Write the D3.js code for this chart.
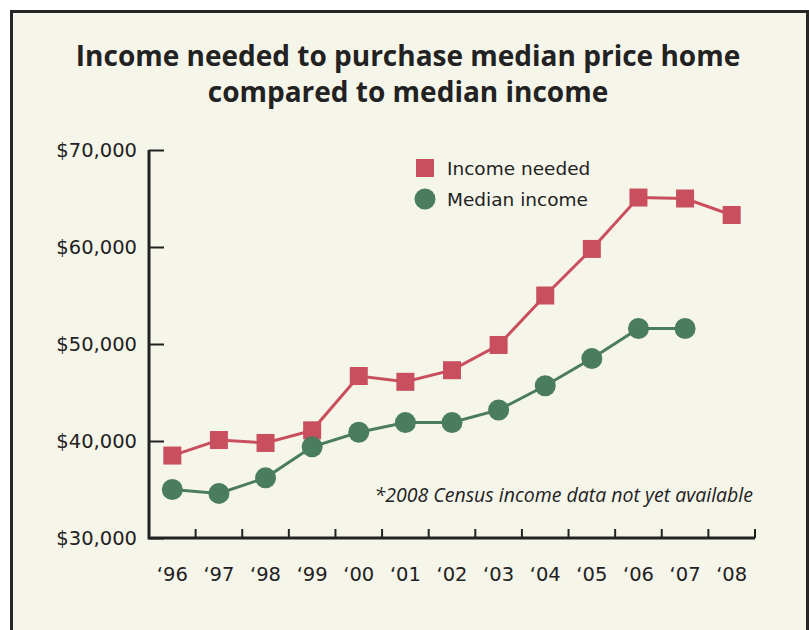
<!DOCTYPE html>
<html lang="en">
<head>
<meta charset="UTF-8">
<title>Income needed vs median income</title>
<script src="https://d3js.org/d3.v7.min.js"></script>
<style>
    body { margin: 0; background: #fff; }
    svg { display: block; }
    text { fill: #222; }
</style>
</head>
<body>
<svg width="809" height="630"></svg>
<script>
// chart data
const years = ["'96", "'97", "'98", "'99", "'00", "'01", "'02", "'03", "'04", "'05", "'06", "'07", "'08"];
const incomeNeeded = [38500, 40100, 39800, 41100, 46700, 46100, 47300, 49900, 55000, 59800, 65100, 65000, 63300];
const medianIncome = [35000, 34600, 36200, 39400, 40900, 41900, 41900, 43200, 45700, 48500, 51600, 51600, null];
const yTicks = [30000, 40000, 50000, 60000, 70000];

const red = "#c94f5e";
const green = "#4a7d5b";

const svg = d3.select("svg");

// frame
svg.append("rect")
    .attr("x", 11.5).attr("y", 11.5)
    .attr("width", 796).attr("height", 640)
    .attr("fill", "#f6f5ea")
    .attr("stroke", "#262626")
    .attr("stroke-width", 3);

// title
const title = svg.append("text")
    .attr("text-anchor", "middle")
    .attr("font-family", "'Open Sans', sans-serif")
    .attr("font-weight", 700)
    .attr("font-size", 28);
title.append("tspan").attr("x", 408).attr("y", 66).text("Income needed to purchase median price home");
title.append("tspan").attr("x", 408).attr("y", 102).text("compared to median income");

const plotLeft = 149, plotRight = 755, plotTop = 150, plotBottom = 538;

const x = d3.scaleBand().domain(years).range([plotLeft, plotRight]);
const y = d3.scaleLinear().domain([30000, 70000]).range([plotBottom, plotTop]);

// y axis
const yAxis = svg.append("g")
    .attr("transform", `translate(${plotLeft},0)`)
    .call(d3.axisRight(y).tickValues(yTicks).tickSize(15).tickFormat(""));
yAxis.select(".domain").remove();
yAxis.selectAll(".tick line").attr("stroke", "#222").attr("stroke-width", 2);

svg.append("g").selectAll("text")
    .data(yTicks)
    .join("text")
    .attr("x", 137)
    .attr("y", d => y(d) + 7)
    .attr("text-anchor", "end")
    .attr("font-family", "'DejaVu Sans', sans-serif")
    .attr("font-size", 19.5)
    .text(d => "$" + d3.format(",")(d));

// x axis: ticks at band boundaries, pointing up
const xTicks = years.map(d => x(d)).slice(1).concat([plotRight]);
svg.append("g").selectAll("line")
    .data(xTicks)
    .join("line")
    .attr("x1", d => d).attr("x2", d => d)
    .attr("y1", plotBottom).attr("y2", plotBottom - 9)
    .attr("stroke", "#222").attr("stroke-width", 2);

svg.append("path")
    .attr("d", `M${plotLeft},${plotTop}V${plotBottom}H${plotRight}`)
    .attr("fill", "none")
    .attr("stroke", "#222")
    .attr("stroke-width", 3);

svg.append("g").selectAll("text")
    .data(years)
    .join("text")
    .attr("x", d => x(d) + x.bandwidth() / 2)
    .attr("y", 581)
    .attr("text-anchor", "middle")
    .attr("font-family", "'DejaVu Sans', sans-serif")
    .attr("font-size", 19.5)
    .text(d => d.replace("'", "\u2018"));

// lines
const cx = (d, i) => x(years[i]) + x.bandwidth() / 2;
const line = d3.line().defined(d => d != null).x(cx).y(d => y(d));

svg.append("path")
    .datum(incomeNeeded)
    .attr("d", line)
    .attr("fill", "none")
    .attr("stroke", red)
    .attr("stroke-width", 3);

svg.append("path")
    .datum(medianIncome)
    .attr("d", line)
    .attr("fill", "none")
    .attr("stroke", green)
    .attr("stroke-width", 3);

svg.append("g").selectAll("rect")
    .data(incomeNeeded)
    .join("rect")
    .attr("x", (d, i) => cx(d, i) - 9)
    .attr("y", d => y(d) - 9)
    .attr("width", 18).attr("height", 18)
    .attr("fill", red);

svg.append("g").selectAll("circle")
    .data(medianIncome.map((v, i) => ({ v, i })).filter(d => d.v != null))
    .join("circle")
    .attr("cx", d => cx(d.v, d.i))
    .attr("cy", d => y(d.v))
    .attr("r", 10.5)
    .attr("fill", green);

// legend
svg.append("rect").attr("x", 416).attr("y", 159).attr("width", 18).attr("height", 18).attr("fill", red);
svg.append("circle").attr("cx", 425).attr("cy", 199).attr("r", 10.5).attr("fill", green);
svg.append("text").attr("x", 447).attr("y", 175)
    .attr("font-family", "'DejaVu Sans', sans-serif").attr("font-size", 18.5)
    .text("Income needed");
svg.append("text").attr("x", 447).attr("y", 206)
    .attr("font-family", "'DejaVu Sans', sans-serif").attr("font-size", 18.5)
    .text("Median income");

// footnote
svg.append("text")
    .attr("x", 753).attr("y", 502)
    .attr("text-anchor", "end")
    .attr("font-family", "'Open Sans', sans-serif")
    .attr("font-style", "italic")
    .attr("font-size", 19.5)
    .text("*2008 Census income data not yet available");
</script>
</body>
</html>
